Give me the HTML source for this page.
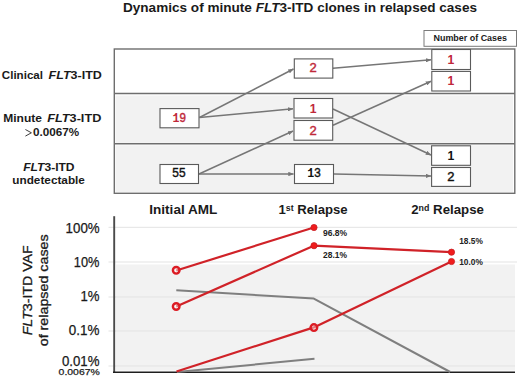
<!DOCTYPE html>
<html><head><meta charset="utf-8">
<style>
html,body{margin:0;padding:0;background:#fff;}
svg{display:block;}
text{font-family:"Liberation Sans",sans-serif;}
.b{font-weight:bold;}
</style></head>
<body>
<svg width="520" height="378" viewBox="0 0 520 378">
<defs>
<marker id="ah" markerWidth="5.5" markerHeight="4.4" refX="5.2" refY="2.2" orient="auto" markerUnits="userSpaceOnUse">
<path d="M0,0 L5.5,2.2 L0,4.4 Z" fill="#767676"/>
</marker>
</defs>

<!-- Title -->
<text class="b" x="123" y="12.1" font-size="12.9" textLength="354" lengthAdjust="spacingAndGlyphs" fill="#1a1a1a">Dynamics of minute <tspan font-style="italic">FLT</tspan>3-ITD clones in relapsed cases</text>

<!-- Number of cases box -->
<rect x="424" y="30.5" width="92.5" height="15.8" fill="#fff" stroke="#7a7a7a" stroke-width="1"/>
<text class="b" x="433.5" y="40.8" font-size="9.1" textLength="73.5" lengthAdjust="spacingAndGlyphs" fill="#1a1a1a">Number of Cases</text>

<!-- Main frame -->
<rect x="115.5" y="95.5" width="397.5" height="47.3" fill="#f2f2f2"/>
<rect x="115.5" y="145.3" width="397.5" height="47" fill="#f2f2f2"/>
<rect x="114.3" y="49" width="400.5" height="144.3" fill="none" stroke="#6e6e6e" stroke-width="1.4"/>
<line x1="114.3" y1="93.5" x2="514.8" y2="93.5" stroke="#6e6e6e" stroke-width="1.4"/>
<line x1="114.3" y1="143.8" x2="514.8" y2="143.8" stroke="#6e6e6e" stroke-width="1.4"/>

<!-- Row labels -->
<g class="b" font-size="11.8" fill="#1a1a1a">
<text class="b" x="1.8" y="78.5" textLength="41.2" lengthAdjust="spacingAndGlyphs">Clinical</text>
<text class="b" x="48.6" y="78.5" textLength="53.2" lengthAdjust="spacingAndGlyphs"><tspan font-style="italic">FLT</tspan>3-ITD</text>
<text class="b" x="3.2" y="122.4" textLength="38.8" lengthAdjust="spacingAndGlyphs">Minute</text>
<text class="b" x="47.3" y="122.4" textLength="54" lengthAdjust="spacingAndGlyphs"><tspan font-style="italic">FLT</tspan>3-ITD</text>
<path d="M25.4,129.5 L31.4,132.8 L25.4,136.1" fill="none" stroke="#333" stroke-width="0.95"/>
<text class="b" x="33" y="136.4" textLength="46.2" lengthAdjust="spacingAndGlyphs">0.0067%</text>
<text class="b" x="23.2" y="170.9" textLength="51.4" lengthAdjust="spacingAndGlyphs"><tspan font-style="italic">FLT</tspan>3-ITD</text>
<text class="b" x="12.3" y="183.5" textLength="72.6" lengthAdjust="spacingAndGlyphs">undetectable</text>
</g>

<!-- Arrows -->
<g stroke="#767676" stroke-width="1.5" fill="none" marker-end="url(#ah)">
<line x1="199.5" y1="117.5" x2="293.5" y2="69"/>
<line x1="199.5" y1="117.5" x2="293" y2="108.8"/>
<line x1="199" y1="174" x2="293" y2="131"/>
<line x1="199" y1="174" x2="293.5" y2="174"/>
<line x1="333" y1="68.3" x2="431" y2="59.8"/>
<line x1="333" y1="125.2" x2="431" y2="81.3"/>
<line x1="333" y1="109" x2="431" y2="155"/>
<line x1="334" y1="174" x2="431" y2="176"/>
</g>

<!-- Boxes -->
<g fill="#fff" stroke="#5a5a5a" stroke-width="1.1">
<rect x="160" y="108.6" width="39" height="19.2"/>
<rect x="160" y="164.5" width="38.5" height="19"/>
<rect x="294.3" y="58.9" width="38.5" height="19.2"/>
<rect x="294" y="98.5" width="38.7" height="19.5"/>
<rect x="294" y="120.5" width="38.7" height="19.7"/>
<rect x="294.5" y="164.5" width="39" height="19"/>
<rect x="431.8" y="49.5" width="38.7" height="20"/>
<rect x="431.8" y="71.4" width="38.7" height="19.6"/>
<rect x="431.6" y="145.8" width="38.9" height="19.5"/>
<rect x="431.6" y="167.5" width="38.9" height="18.9"/>
</g>
<g font-size="13" text-anchor="middle" stroke-width="0.42">
<text x="179.3" y="122" fill="#c0283a" stroke="#c0283a" textLength="13.4" lengthAdjust="spacingAndGlyphs"><tspan font-family="Liberation Mono" font-weight="bold" stroke-width="0">1</tspan>9</text>
<text x="178.9" y="177.1" fill="#111" stroke="#111" textLength="13.3" lengthAdjust="spacingAndGlyphs">55</text>
<text x="313.1" y="72.3" fill="#c0283a" stroke="#c0283a">2</text>
<text x="313.1" y="112.5" fill="#c0283a" stroke="#c0283a" font-family="Liberation Mono" font-weight="bold" stroke-width="0" textLength="6.8" lengthAdjust="spacingAndGlyphs">1</text>
<text x="313.1" y="134.6" fill="#c0283a" stroke="#c0283a">2</text>
<text x="314" y="177.3" fill="#111" stroke="#111" textLength="13.5" lengthAdjust="spacingAndGlyphs"><tspan font-family="Liberation Mono" font-weight="bold" stroke-width="0">1</tspan>3</text>
<text x="450.8" y="63.8" fill="#c0283a" stroke="#c0283a" font-family="Liberation Mono" font-weight="bold" stroke-width="0" textLength="6.8" lengthAdjust="spacingAndGlyphs">1</text>
<text x="450.8" y="85.3" fill="#c0283a" stroke="#c0283a" font-family="Liberation Mono" font-weight="bold" stroke-width="0" textLength="6.8" lengthAdjust="spacingAndGlyphs">1</text>
<text x="450.8" y="159.8" fill="#111" stroke="#111" font-family="Liberation Mono" font-weight="bold" stroke-width="0" textLength="6.8" lengthAdjust="spacingAndGlyphs">1</text>
<text x="450.8" y="181.1" fill="#111" stroke="#111">2</text>
</g>

<!-- Column headers -->
<text class="b" x="149.3" y="213.8" font-size="13.5" textLength="68" lengthAdjust="spacingAndGlyphs" fill="#1a1a1a">Initial AML</text>
<text class="b" x="278.5" y="213.8" font-size="13.5" textLength="69.2" lengthAdjust="spacingAndGlyphs" fill="#1a1a1a">1<tspan font-size="9" dy="-2.9">st</tspan><tspan dy="2.9"> Relapse</tspan></text>
<text class="b" x="411.2" y="214.1" font-size="13.5" textLength="72.7" lengthAdjust="spacingAndGlyphs" fill="#1a1a1a">2<tspan font-size="9" dy="-2.9">nd</tspan><tspan dy="2.9"> Relapse</tspan></text>

<!-- Chart background -->
<rect x="116" y="264.5" width="399" height="106" fill="#f2f2f2"/>
<g stroke="#e3e3e3" stroke-width="1">
<line x1="108.5" y1="227.3" x2="517" y2="227.3"/>
<line x1="108.5" y1="262" x2="517" y2="262"/>
<line x1="108.5" y1="297" x2="515" y2="297"/>
<line x1="108.5" y1="331" x2="515" y2="331"/>
<line x1="108.5" y1="366" x2="515" y2="366"/>
</g>
<line x1="114.2" y1="216.2" x2="114.2" y2="372.5" stroke="#4a4a4a" stroke-width="1.9"/>
<line x1="113" y1="372.2" x2="515" y2="372.2" stroke="#1e1e1e" stroke-width="1.4"/>

<!-- Y axis labels -->
<g font-size="14" text-anchor="end" fill="#1a1a1a" stroke="#1a1a1a" stroke-width="0.25">
<text x="99.6" y="232.6" textLength="34" lengthAdjust="spacingAndGlyphs">100%</text>
<text x="99.4" y="267.4" textLength="25.6" lengthAdjust="spacingAndGlyphs">10%</text>
<text x="99.4" y="300.7" textLength="19" lengthAdjust="spacingAndGlyphs">1%</text>
<text x="99.4" y="335.2" textLength="30.6" lengthAdjust="spacingAndGlyphs">0.1%</text>
<text x="99.4" y="365.5" textLength="37.5" lengthAdjust="spacingAndGlyphs">0.01%</text>
<text x="99.8" y="375.3" font-size="9.6" textLength="41.2" lengthAdjust="spacingAndGlyphs">0.0067%</text>
</g>
<text transform="translate(32.3,335.3) rotate(-90)" x="0" y="0" font-size="13.6" textLength="90" lengthAdjust="spacingAndGlyphs" fill="#1a1a1a" stroke="#1a1a1a" stroke-width="0.3"><tspan font-style="italic">FLT</tspan>3-ITD VAF</text>
<text transform="translate(48.2,346.3) rotate(-90)" x="0" y="0" font-size="13.3" textLength="112" lengthAdjust="spacingAndGlyphs" fill="#1a1a1a" stroke="#1a1a1a" stroke-width="0.3">of relapsed cases</text>

<!-- Data lines -->
<g fill="none" stroke-width="2" stroke-linejoin="round">
<polyline points="176.3,290.2 313.8,298.6 450.2,372" stroke="#7f7f7f"/>
<polyline points="177,372 314.5,358.8" stroke="#7f7f7f"/>
</g>
<g fill="none" stroke-width="2.2" stroke-linejoin="round" stroke="#d02228">
<polyline points="176.3,270.5 313.8,227.5"/>
<polyline points="176.3,306.5 313.8,245.7 451.5,252.2"/>
<polyline points="176.5,371.5 313.8,327.4 451.5,261.5"/>
</g>
<g fill="#fff" fill-opacity="0.4" stroke="#dc1c24" stroke-width="2.4">
<circle cx="176.2" cy="270.3" r="3.3"/>
<circle cx="176.2" cy="306.5" r="3.3"/>
<circle cx="313.9" cy="327.6" r="3.3"/>
</g>
<g fill="#f01c1c" stroke="#c81e24" stroke-width="0.8">
<circle cx="314" cy="227.5" r="3.1"/>
<circle cx="314" cy="245.7" r="3.1"/>
<circle cx="451.5" cy="252.2" r="3.1"/>
<circle cx="451.5" cy="261.5" r="3.1"/>
</g>
<g class="b" font-size="8.9" fill="#222">
<text class="b" x="323" y="235.6" textLength="24.2" lengthAdjust="spacingAndGlyphs">96.8%</text>
<text class="b" x="323" y="257.8" textLength="24" lengthAdjust="spacingAndGlyphs">28.1%</text>
<text class="b" x="459.2" y="244.2" textLength="23.6" lengthAdjust="spacingAndGlyphs">18.5%</text>
<text class="b" x="459.2" y="265" textLength="23.6" lengthAdjust="spacingAndGlyphs">10.0%</text>
</g>
</svg>
</body></html>
